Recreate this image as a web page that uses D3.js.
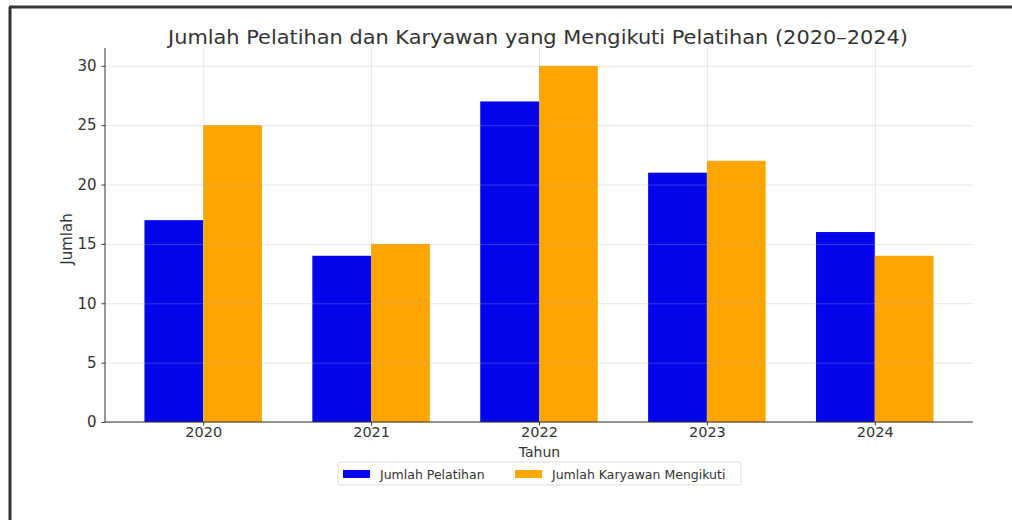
<!DOCTYPE html>
<html>
<head>
<meta charset="utf-8">
<script src="https://cdn.jsdelivr.net/npm/d3@7"></script>
<style>
  body { margin: 0; background: #fff; }
  svg { display: block; font-family: "DejaVu Sans", sans-serif; }
</style>
</head>
<body>
<svg id="chart" width="1012" height="520"></svg>
<script>
const years = ["2020", "2021", "2022", "2023", "2024"];
const pelatihan = [17, 14, 27, 21, 16];
const karyawan = [25, 15, 30, 22, 14];
const seriesNames = ["Jumlah Pelatihan", "Jumlah Karyawan Mengikuti"];
const seriesColors = ["#0505ec", "#ffa500"];
const yTicks = [0, 5, 10, 15, 20, 25, 30];

const svg = d3.select("#chart");
const plotL = 105, plotR = 973, plotT = 48, plotB = 422;

// frame of the screenshot (left and top edges)
svg.append("line").attr("x1", 10).attr("x2", 10).attr("y1", 7).attr("y2", 520)
    .attr("stroke", "#333").attr("stroke-width", 3);
svg.append("line").attr("x1", 9).attr("x2", 1012).attr("y1", 7).attr("y2", 7)
    .attr("stroke", "#333").attr("stroke-width", 3);

// matplotlib-like continuous x: category i at i, bars width 0.35
const barW = 0.35;
const x = d3.scaleLinear().domain([-0.585, years.length - 1 + 0.585]).range([plotL, plotR]);
const y = d3.scaleLinear().domain([0, 31.5]).range([plotB, plotT]);

const data = [];
years.forEach((yr, i) => {
    data.push({ i: i, s: 0, v: pelatihan[i] });
    data.push({ i: i, s: 1, v: karyawan[i] });
});

svg.selectAll(".bar")
    .data(data)
    .enter().append("rect")
    .attr("class", "bar")
    .attr("x", d => x(d.i - barW + d.s * barW))
    .attr("width", x(barW) - x(0))
    .attr("y", d => y(d.v))
    .attr("height", d => y(0) - y(d.v))
    .attr("fill", d => seriesColors[d.s]);

// grid
svg.append("g")
    .attr("transform", `translate(0, ${plotB})`)
    .call(d3.axisBottom(x).tickValues(d3.range(years.length)).tickSize(-(plotB - plotT)).tickFormat(""))
    .call(g => g.select(".domain").remove())
    .call(g => g.selectAll("line").attr("stroke", "#b0b0b0").attr("stroke-opacity", 0.3));
svg.append("g")
    .attr("transform", `translate(${plotL}, 0)`)
    .call(d3.axisLeft(y).tickValues(yTicks).tickSize(-(plotR - plotL)).tickFormat(""))
    .call(g => g.select(".domain").remove())
    .call(g => g.selectAll("line").attr("stroke", "#b0b0b0").attr("stroke-opacity", 0.3));

// axes
svg.append("g")
    .attr("transform", `translate(0, ${plotB})`)
    .call(d3.axisBottom(x).tickValues(d3.range(years.length)).tickFormat(i => years[i]).tickSize(3.5).tickPadding(1))
    .call(g => g.select(".domain").attr("d", `M${plotL},0H${plotR}`).attr("stroke", "#333"))
    .call(g => g.selectAll("line").attr("stroke", "#333"))
    .call(g => g.selectAll("text").attr("font-size", 14.5).attr("fill", "#333").attr("font-family", "DejaVu Sans"));

svg.append("g")
    .attr("transform", `translate(${plotL}, 0)`)
    .call(d3.axisLeft(y).tickValues(yTicks).tickSize(3.5).tickPadding(5))
    .call(g => g.select(".domain").attr("d", `M0,${plotT}V${plotB}`).attr("stroke", "#333"))
    .call(g => g.selectAll("line").attr("stroke", "#333"))
    .call(g => g.selectAll("text").attr("font-size", 15).attr("fill", "#333").attr("font-family", "DejaVu Sans"));

svg.append("text")
    .attr("x", 539.5)
    .attr("y", 457)
    .attr("text-anchor", "middle")
    .attr("font-size", 14)
    .attr("fill", "#333")
    .text("Tahun");

svg.append("text")
    .attr("transform", `translate(72, 239) rotate(-90)`)
    .attr("text-anchor", "middle")
    .attr("font-size", 15)
    .attr("fill", "#333")
    .text("Jumlah");

svg.append("text")
    .attr("x", 538)
    .attr("y", 44)
    .attr("text-anchor", "middle")
    .attr("font-size", 19)
    .attr("textLength", 740)
    .attr("lengthAdjust", "spacingAndGlyphs")
    .attr("fill", "#333")
    .text("Jumlah Pelatihan dan Karyawan yang Mengikuti Pelatihan (2020\u20132024)");

// legend
const legend = svg.append("g").attr("transform", "translate(338, 462)");
legend.append("rect")
    .attr("width", 403).attr("height", 23)
    .attr("fill", "#fff").attr("stroke", "#ddd").attr("rx", 2);
const legendX = [5, 177];
seriesNames.forEach((name, k) => {
    const g = legend.append("g").attr("transform", `translate(${legendX[k]}, 0)`);
    g.append("rect").attr("x", 0).attr("y", 8).attr("width", 27).attr("height", 8).attr("fill", seriesColors[k]);
    g.append("text").attr("x", 37).attr("y", 16.5).attr("font-size", 12.5).attr("fill", "#333").text(name);
});
</script>
</body>
</html>
